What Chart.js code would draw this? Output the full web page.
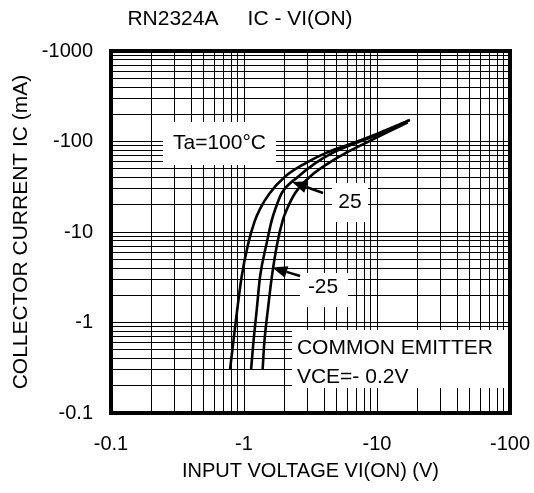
<!DOCTYPE html>
<html><head><meta charset="utf-8">
<script src="https://cdn.jsdelivr.net/npm/chart.js@4.4.0/dist/chart.umd.min.js"></script>
<style>html,body{margin:0;padding:0;background:#fff;}canvas{display:block;}</style>
</head><body>
<canvas id="c" width="534" height="493" style="width:534px;height:493px"></canvas>
<script>
const FONT = "'Liberation Sans', Arial, Helvetica, sans-serif";
const chartTitle = 'RN2324A     IC - VI(ON)';
const xAxisTitle = 'INPUT VOLTAGE VI(ON) (V)';
const yAxisTitle = 'COLLECTOR CURRENT IC (mA)';
const xDecades = [0.1, 1, 10, 100];
const xTickLabels = ['-0.1', '-1', '-10', '-100'];
const yDecades = [0.1, 1, 10, 100, 1000];
const yTickLabels = ['-0.1', '-1', '-10', '-100', '-1000'];
const seriesNames = ['Ta=100°C', '25', '-25'];
// magnitudes: -VI(ON) in V, -IC in mA
const vi100 = [0.785, 0.83, 0.89, 0.96, 1.07, 1.20, 1.32, 1.55, 2.03, 2.87, 4.06, 6.45, 10.2, 17.7];
const ic100 = [0.3, 0.6, 1.4, 3.2, 7.2, 13, 18, 26.5, 40.8, 57, 74, 95, 123, 173];
const vi25 = [1.13, 1.175, 1.246, 1.32, 1.48, 1.62, 1.71, 1.92, 2.55, 3.42, 4.56, 6.83, 10.6, 17.3];
const ic25 = [0.3, 0.59, 1.37, 3.2, 7.5, 13.6, 17.5, 26.8, 40.8, 57.4, 74.1, 95.5, 122, 170];
const viM25 = [1.38, 1.42, 1.51, 1.62, 1.78, 1.96, 2.09, 2.42, 3.13, 4.30, 5.75, 8.12, 11.5, 17.0];
const icM25 = [0.3, 0.59, 1.37, 3.21, 7.5, 13.6, 17.5, 26.8, 40.8, 57.4, 74.1, 95.5, 123, 163];

// annotation layout, anchored in data coordinates
const labelBoxes = [
  {lines: ['Ta=100°C'], align: 'center', tx: 0.654, ty: [95.1], box: [0.246, 164, 1.74, 55]},
  {lines: ['25'], align: 'center', tx: 6.27, ty: [21.4], box: [4.59, 34.8, 8.56, 12.9]},
  {lines: ['-25'], align: 'center', tx: 3.93, ty: [2.44], box: [2.64, 3.52, 6.05, 1.48]},
  {lines: ['COMMON EMITTER', 'VCE=- 0.2V'], align: 'left', tx: 2.50, ty: [0.523, 0.250], box: [2.30, 0.826, 96.6, 0.189]}
];
const arrows = [
  {from: [3.93, 27.0], to: [2.30, 35.7]},
  {from: [2.64, 3.26], to: [1.63, 4.05]}
];

function logGrid(decades) {
  const out = [];
  for (let i = 0; i < decades.length; i++) {
    const d = decades[i];
    if (i === decades.length - 1) { out.push(d); break; }
    for (let m = 1; m <= 9; m++) out.push(+(m * d).toPrecision(3));
  }
  return out;
}

const seriesX = [vi100, vi25, viM25];
const seriesY = [ic100, ic25, icM25];

const decor = {
  id: 'decor',
  beforeDatasetsDraw(chart) {
    const {ctx, scales: {x, y}} = chart;
    ctx.save();
    for (const b of labelBoxes) {
      const x0 = x.getPixelForValue(b.box[0]), y0 = y.getPixelForValue(b.box[1]);
      const x1 = x.getPixelForValue(b.box[2]), y1 = y.getPixelForValue(b.box[3]);
      ctx.fillStyle = '#fff';
      ctx.fillRect(x0, y0, x1 - x0, y1 - y0);
      ctx.fillStyle = '#000';
      ctx.font = '21px ' + FONT;
      ctx.textBaseline = 'middle';
      ctx.textAlign = b.align;
      b.lines.forEach((t, i) => ctx.fillText(t, x.getPixelForValue(b.tx), y.getPixelForValue(b.ty[i])));
    }
    ctx.strokeStyle = '#000';
    ctx.fillStyle = '#000';
    ctx.lineWidth = 2.5;
    for (const a of arrows) {
      const fx = x.getPixelForValue(a.from[0]), fy = y.getPixelForValue(a.from[1]);
      const tx = x.getPixelForValue(a.to[0]), ty = y.getPixelForValue(a.to[1]);
      const ang = Math.atan2(ty - fy, tx - fx);
      const hl = 15, hw = 6;
      const bx = tx - hl * Math.cos(ang), by = ty - hl * Math.sin(ang);
      ctx.beginPath(); ctx.moveTo(fx, fy); ctx.lineTo(bx, by); ctx.stroke();
      ctx.beginPath();
      ctx.moveTo(tx, ty);
      ctx.lineTo(bx + hw * Math.sin(ang), by - hw * Math.cos(ang));
      ctx.lineTo(bx - hw * Math.sin(ang), by + hw * Math.cos(ang));
      ctx.closePath(); ctx.fill();
    }
    ctx.restore();
  },
  afterDraw(chart) {
    const {ctx, chartArea: a} = chart;
    ctx.save();
    ctx.strokeStyle = '#000';
    ctx.lineWidth = 4;
    ctx.strokeRect(a.left, a.top, a.right - a.left, a.bottom - a.top);
    ctx.fillStyle = '#000';
    ctx.font = '21px ' + FONT;
    ctx.textAlign = 'center';
    ctx.textBaseline = 'middle';
    ctx.fillText(chartTitle, 240, 19);
    ctx.restore();
  }
};

function axis(decades, labels, fitFn, title, titlePad, tickPad, titleSize) {
  return {
    type: 'logarithmic',
    min: decades[0], max: decades[decades.length - 1],
    afterBuildTicks: s => { s.ticks = logGrid(decades).map(v => ({value: v, major: decades.includes(v)})); },
    afterFit: s => { fitFn(s); s.paddingLeft = 0; s.paddingRight = 0; s.paddingTop = 0; s.paddingBottom = 0; },
    ticks: {
      autoSkip: false, maxRotation: 0, minRotation: 0, padding: tickPad, color: '#000',
      font: {family: FONT, size: 20},
      callback: v => { const i = decades.indexOf(v); return i >= 0 ? labels[i] : ''; }
    },
    grid: {color: '#000', lineWidth: 1, drawTicks: false},
    border: {display: false},
    title: {display: true, text: title, color: '#000', font: {family: FONT, size: titleSize}, padding: titlePad}
  };
}

new Chart(document.getElementById('c'), {
  type: 'scatter',
  data: {
    datasets: seriesX.map((xs, k) => ({
      label: seriesNames[k],
      data: xs.map((v, i) => ({x: v, y: seriesY[k][i]})),
      borderColor: '#000', backgroundColor: '#000', borderWidth: 2.6,
      pointRadius: 0, showLine: true, fill: false, cubicInterpolationMode: 'monotone'
    }))
  },
  options: {
    responsive: false, animation: false, devicePixelRatio: 1,
    layout: {padding: {top: 51, right: 24, left: 0, bottom: 0}},
    plugins: {legend: {display: false}, tooltip: {enabled: false}, title: {display: false}},
    scales: {
      x: axis(xDecades, xTickLabels, s => { s.height = 80; }, xAxisTitle, {top: 0, bottom: 10}, 19, 20),
      y: axis(yDecades, yTickLabels, s => { s.width = 111; }, yAxisTitle, {top: 9, bottom: 0}, 18, 21)
    }
  },
  plugins: [decor]
});
</script>
</body></html>
